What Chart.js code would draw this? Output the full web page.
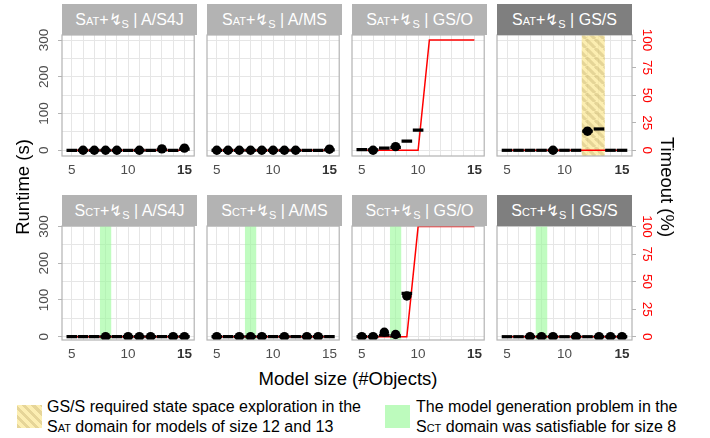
<!DOCTYPE html>
<html>
<head>
<meta charset="utf-8">
<script src="https://cdn.jsdelivr.net/npm/chart.js@4.4.1/dist/chart.umd.min.js"></script>
<style>
  body { margin: 0; background: #fff; font-family: "Liberation Sans", Arial, sans-serif; }
  #page { position: relative; width: 710px; height: 438px; overflow: hidden; }
  canvas { position: absolute; }
  .strip { position: absolute; color: #fff; font-size: 16px; text-align: center; white-space: nowrap; }
  .strip sub { font-size: 11px; vertical-align: -3px; line-height: 0; }
  .sc { font-variant: small-caps; }
  .ctr { position: absolute; width: 0; height: 0; }
  .ctr > span { position: absolute; left: 0; top: 0; white-space: nowrap; color: #000; font-size: 18.5px; }
  .legtxt { position: absolute; font-size: 16px; line-height: 20px; white-space: nowrap; color: #000; }
</style>
</head>
<body>
<div id="page"></div>
<script>
// model sizes on the x axis
const sizes = [5, 6, 7, 8, 9, 10, 11, 12, 13, 14, 15];
const xTickLabels = [5, 10, 15];
const runtimeGrid = [0, 50, 100, 150, 200, 250, 300];
const runtimeTicks = [0, 100, 200, 300];
const timeoutTicks = [0, 25, 50, 75, 100];
const solvers = ['A/S4J', 'A/MS', 'GS/O', 'GS/S'];

// shaded size ranges
const satBand = [11.5, 13.5];
const sctBand = [7.5, 8.5];

// SAT row: box (median runtime, s), outlier runs (s), timeouts (%)
const satS4jBox = [0, 0, 0, 0, 0, 0, 0, 0, 1, 0, 3];
const satS4jOut = [null, 0, 0, 0, 0, null, 0, null, 4, null, 6];
const satS4jTimeout = [0, 0, 0, 0, 0, 0, 0, 0, 0, 0, 0];

const satMsBox = [0, 0, 0, 0, 0, 0, 0, 0, 0, 0, 1];
const satMsOut = [0, 0, 0, 0, 0, 0, 0, 0, null, null, 3];
const satMsTimeout = [0, 0, 0, 0, 0, 0, 0, 0, 0, 0, 0];

const satGsoBox = [2, 1, 6, 8, 25, 55, null, null, null, null, null];
const satGsoOut = [null, 0, null, 10, null, null, null, null, null, null, null];
const satGsoTimeout = [0, 0, 0, 0, 0, 0, 100, 100, 100, 100, 100];

const satGssBox = [0, 0, 0, 0, 0, 0, 0, 52, 58, 0, 0];
const satGssOut = [null, null, null, null, 0, null, null, 52, null, null, null];
const satGssTimeout = [0, 0, 0, 0, 0, 0, 0, 0, 0, 0, 0];

// SCT row
const sctS4jBox = [0, 0, 0, 0, 0, 0, 0, 0, 0, 0, 0];
const sctS4jOut = [null, null, null, 0, null, 0, 0, 0, null, 0, 0];
const sctS4jTimeout = [0, 0, 0, 0, 0, 0, 0, 0, 0, 0, 0];

const sctMsBox = [0, 0, 0, 0, 0, 0, 0, 0, 0, 0, 0];
const sctMsOut = [0, null, 0, 0, 0, null, 0, null, 0, 0, null];
const sctMsTimeout = [0, 0, 0, 0, 0, 0, 0, 0, 0, 0, 0];

const sctGsoBox = [0, 0, 4, 2, 118, null, null, null, null, null, null];
const sctGsoOut = [0, 0, 12, 6, 111, null, null, null, null, null, null];
const sctGsoTimeout = [0, 0, 0, 0, 0, 100, 100, 100, 100, 100, 100];

const sctGssBox = [0, 0, 0, 0, 0, 0, 0, 0, 0, 0, 0];
const sctGssOut = [null, null, 0, 0, 0, null, 0, null, 0, 0, 0];
const sctGssTimeout = [0, 0, 0, 0, 0, 0, 0, 0, 0, 0, 0];

const FONT = '"Liberation Sans", Arial, sans-serif';
const page = document.getElementById('page');

// panel layout
const cols = [62, 207, 352, 497];
const panelW = 135;
const rowGeo = [
  { strip: 4, top: 35, bottom: 156, yMin: -15.5, yMax: 313.6 },
  { strip: 195, top: 226, bottom: 340, yMin: -9, yMax: 301.5 }
];
const axisH = 26;
const padT = 14;

const panels = [
  { row: 0, col: 0, dom: 'Sat', box: satS4jBox, out: satS4jOut, to: satS4jTimeout, band: null, bold15: true },
  { row: 0, col: 1, dom: 'Sat', box: satMsBox, out: satMsOut, to: satMsTimeout, band: null, bold15: true },
  { row: 0, col: 2, dom: 'Sat', box: satGsoBox, out: satGsoOut, to: satGsoTimeout, band: null, bold15: true },
  { row: 0, col: 3, dom: 'Sat', box: satGssBox, out: satGssOut, to: satGssTimeout, band: satBand, hatch: true, bold15: true },
  { row: 1, col: 0, dom: 'Sct', box: sctS4jBox, out: sctS4jOut, to: sctS4jTimeout, band: sctBand, bold15: true },
  { row: 1, col: 1, dom: 'Sct', box: sctMsBox, out: sctMsOut, to: sctMsTimeout, band: sctBand, bold15: false },
  { row: 1, col: 2, dom: 'Sct', box: sctGsoBox, out: sctGsoOut, to: sctGsoTimeout, band: sctBand, bold15: true },
  { row: 1, col: 3, dom: 'Sct', box: sctGssBox, out: sctGssOut, to: sctGssTimeout, band: sctBand, bold15: true }
];

function pts(arr) {
  return sizes.map((x, i) => ({ x: x, y: arr[i] })).filter(d => d.y !== null);
}

function hatchPattern(ctx) {
  const c = document.createElement('canvas');
  c.width = c.height = 9;
  const g = c.getContext('2d');
  g.fillStyle = '#fbe791';
  g.fillRect(0, 0, 9, 9);
  g.strokeStyle = '#dbc36c';
  g.lineWidth = 3.2;
  for (let k = -1; k <= 1; k++) {
    g.beginPath();
    g.moveTo(k * 9, 0);
    g.lineTo(k * 9 + 9, 9);
    g.stroke();
  }
  return ctx.createPattern(c, 'repeat');
}

// shaded band behind the points
const bandPlugin = {
  id: 'band',
  beforeDatasetsDraw(chart, args, o) {
    if (!o.range) return;
    const ctx = chart.ctx, ca = chart.chartArea, x = chart.scales.x;
    const x0 = x.getPixelForValue(o.range[0]), x1 = x.getPixelForValue(o.range[1]);
    ctx.save();
    if (o.hatch) {
      ctx.globalAlpha = 0.7;
      ctx.fillStyle = hatchPattern(ctx);
    } else {
      ctx.fillStyle = 'rgba(150,250,150,0.6)';
    }
    ctx.fillRect(x0, ca.top, x1 - x0, ca.height);
    ctx.restore();
  }
};

// rotated y tick labels + panel border
const sidePlugin = {
  id: 'side',
  afterDraw(chart, args, o) {
    const ctx = chart.ctx, ca = chart.chartArea;
    ctx.save();
    ctx.font = '13.5px ' + FONT;
    ctx.textAlign = 'center';
    ctx.textBaseline = 'middle';
    if (o.left) {
      ctx.fillStyle = '#4d4d4d';
      runtimeTicks.forEach(v => {
        const y = chart.scales.y.getPixelForValue(v);
        ctx.save();
        ctx.translate(ca.left - 18, y);
        ctx.rotate(-Math.PI / 2);
        ctx.fillText(String(v), 0, 0);
        ctx.restore();
      });
    }
    if (o.right) {
      ctx.fillStyle = '#ff0000';
      timeoutTicks.forEach(v => {
        const y = chart.scales.yT.getPixelForValue(v);
        ctx.save();
        ctx.translate(ca.right + 15, y);
        ctx.rotate(Math.PI / 2);
        ctx.fillText(String(v), 0, 0);
        ctx.restore();
      });
    }
    ctx.strokeStyle = '#b3b3b3';
    ctx.lineWidth = 1.2;
    ctx.strokeRect(ca.left, ca.top, ca.width, ca.height);
    ctx.restore();
  }
};

panels.forEach(p => {
  const g = rowGeo[p.row];
  const padL = p.col === 0 ? 30 : 0;
  const padR = p.col === 3 ? 30 : 0;
  const cv = document.createElement('canvas');
  cv.width = panelW + padL + padR + 2;
  cv.height = g.bottom - g.top + axisH + padT;
  cv.style.left = (cols[p.col] - padL - 1) + 'px';
  cv.style.top = (g.top - padT) + 'px';
  page.appendChild(cv);

  const st = document.createElement('div');
  st.className = 'strip';
  st.style.left = cols[p.col] + 'px';
  st.style.top = g.strip + 'px';
  st.style.width = panelW + 'px';
  st.style.height = (g.top - g.strip) + 'px';
  st.style.lineHeight = (g.top - g.strip) + 'px';
  st.style.background = p.col === 3 ? '#7f7f7f' : '#b3b3b3';
  st.innerHTML = '<span class="sc">' + p.dom + '</span>+\u21AF<sub>S</sub> | ' + solvers[p.col];
  page.appendChild(st);

  new Chart(cv, {
    type: 'scatter',
    data: {
      datasets: [
        {
          data: pts(p.out),
          pointRadius: 4.7,
          pointBackgroundColor: '#000',
          pointBorderWidth: 0
        },
        {
          data: pts(p.box),
          pointStyle: 'line',
          pointRadius: 5.3,
          pointBorderColor: '#000',
          pointBorderWidth: 3.2
        },
        {
          type: 'line',
          data: pts(p.to),
          yAxisID: 'yT',
          borderColor: '#ff0000',
          borderWidth: 1.5,
          pointRadius: 0,
          tension: 0
        }
      ]
    },
    options: {
      responsive: false,
      animation: false,
      events: [],
      layout: { padding: { left: 1, right: 1, top: padT, bottom: 0 }, autoPadding: false },
      plugins: {
        legend: { display: false },
        tooltip: { enabled: false },
        band: { range: p.band, hatch: !!p.hatch },
        side: { left: p.col === 0, right: p.col === 3 }
      },
      scales: {
        x: {
          type: 'linear',
          min: 4.13,
          max: 15.87,
          afterBuildTicks: s => { s.ticks = sizes.map(v => ({ value: v })); },
          afterFit: s => { s.height = axisH; },
          border: { display: false },
          grid: { color: '#e6e6e6', lineWidth: 1, drawTicks: false },
          ticks: {
            autoSkip: false,
            maxRotation: 0,
            padding: 6,
            color: c => (p.bold15 && c.tick && c.tick.value === 15) ? '#333' : '#4d4d4d',
            font: c => ({ size: 13.5, family: FONT, weight: (p.bold15 && c.tick && c.tick.value === 15) ? 'bold' : 'normal' }),
            callback: v => xTickLabels.includes(v) ? String(v) : ''
          }
        },
        y: {
          position: 'left',
          min: g.yMin,
          max: g.yMax,
          afterBuildTicks: s => { s.ticks = runtimeGrid.map(v => ({ value: v })); },
          afterFit: s => { s.width = padL; },
          border: { display: false },
          ticks: { display: false },
          grid: {
            color: '#e6e6e6',
            lineWidth: 1,
            drawTicks: p.col === 0,
            tickLength: 4,
            tickColor: c => (c.tick && runtimeTicks.includes(c.tick.value)) ? '#b3b3b3' : 'rgba(0,0,0,0)'
          }
        },
        yT: {
          position: 'right',
          min: g.yMin / 3,
          max: g.yMax / 3,
          afterBuildTicks: s => { s.ticks = timeoutTicks.map(v => ({ value: v })); },
          afterFit: s => { s.width = padR; },
          border: { display: false },
          ticks: { display: false },
          grid: { drawOnChartArea: false, drawTicks: p.col === 3, tickLength: 4, tickColor: '#b3b3b3' }
        }
      }
    },
    plugins: [bandPlugin, sidePlugin]
  });
});

// axis titles
function centred(text, x, y, rot) {
  const d = document.createElement('div');
  d.className = 'ctr';
  d.style.left = x + 'px';
  d.style.top = y + 'px';
  const s = document.createElement('span');
  s.innerHTML = text;
  s.style.transform = 'translate(-50%,-50%) rotate(' + rot + 'deg)';
  d.appendChild(s);
  page.appendChild(d);
}
centred('Runtime (s)', 23, 187, -90);
centred('Timeout (%)', 667, 187, 90);
centred('Model size (#Objects)', 348, 379, 0);

// legend
function box(x, y, w, h, bg) {
  const d = document.createElement('div');
  d.style.cssText = 'position:absolute;left:' + x + 'px;top:' + y + 'px;width:' + w + 'px;height:' + h + 'px;background:' + bg + ';';
  page.appendChild(d);
}
function legText(x, y, html) {
  const d = document.createElement('div');
  d.className = 'legtxt';
  d.style.left = x + 'px';
  d.style.top = y + 'px';
  d.innerHTML = html;
  page.appendChild(d);
}
box(17, 405, 25, 23, 'repeating-linear-gradient(45deg, #e6d598 0 3px, #fceeb2 3px 6.5px)');
legText(47, 397, 'GS/S required state space exploration in the<br><span class="sc">Sat</span> domain for models of size 12 and 13');
box(385, 405, 25, 23, 'rgb(189,251,189)');
legText(416, 397, 'The model generation problem in the<br><span class="sc">Sct</span> domain was satisfiable for size 8');
</script>
</body>
</html>
